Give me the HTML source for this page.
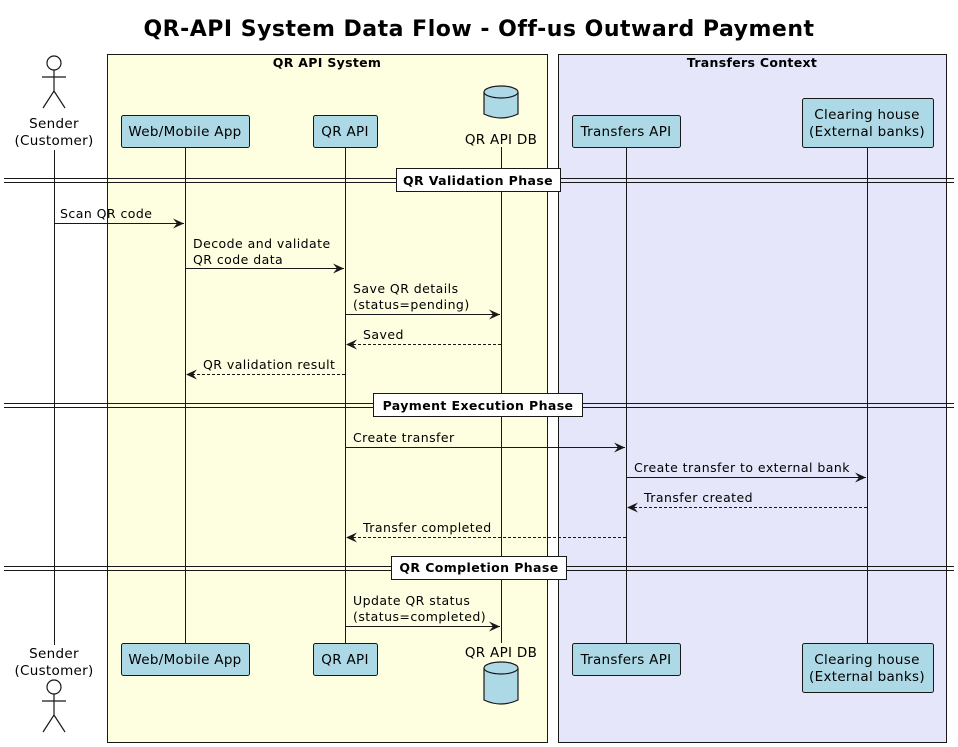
<!DOCTYPE html>
<html><head><meta charset="utf-8"><style>body{margin:0;background:#fff}svg{display:block}</style></head><body>
<svg width="958" height="747" viewBox="0 0 958 747" xmlns="http://www.w3.org/2000/svg" font-family="DejaVu Sans, Liberation Sans, sans-serif">
<defs>
<marker id="a" markerWidth="12" markerHeight="10" refX="11" refY="5" orient="auto" markerUnits="userSpaceOnUse"><path d="M0,0 L11,5 L0,10 L4,5 Z" fill="#181818"/></marker>
</defs>
<text x="479" y="36" text-anchor="middle" font-size="22" font-weight="bold" letter-spacing="0.5">QR-API System Data Flow - Off-us Outward Payment</text>
<rect x="107.5" y="54.5" width="440" height="688" fill="#FEFEE0" stroke="#181818"/>
<rect x="558.5" y="54.5" width="388" height="688" fill="#E6E6FA" stroke="#181818"/>
<text x="327" y="67" text-anchor="middle" font-size="12.5" font-weight="bold" letter-spacing="0.3">QR API System</text>
<text x="752" y="67" text-anchor="middle" font-size="12.5" font-weight="bold" letter-spacing="0.3">Transfers Context</text>
<g stroke="#181818" stroke-width="1">
<line x1="54.5" y1="150" x2="54.5" y2="645"/>
<line x1="185.5" y1="147" x2="185.5" y2="643"/>
<line x1="345.5" y1="147" x2="345.5" y2="643"/>
<line x1="501.5" y1="147" x2="501.5" y2="643"/>
<line x1="626.5" y1="147" x2="626.5" y2="643"/>
<line x1="867.5" y1="147" x2="867.5" y2="643"/>
</g>
<g fill="#ADD8E6" stroke="#181818">
<rect x="121.5" y="115.5" width="128" height="32" rx="2"/>
<rect x="313.5" y="115.5" width="64" height="32" rx="2"/>
<rect x="572.5" y="115.5" width="108" height="32" rx="2"/>
<rect x="802.5" y="98.5" width="131" height="49" rx="2"/>
<rect x="121.5" y="643.5" width="128" height="32" rx="2"/>
<rect x="313.5" y="643.5" width="64" height="32" rx="2"/>
<rect x="572.5" y="643.5" width="108" height="32" rx="2"/>
<rect x="802.5" y="643.5" width="131" height="49" rx="2"/>
</g>
<g font-size="13.5" text-anchor="middle" letter-spacing="0.3">
<text x="185" y="136">Web/Mobile App</text>
<text x="345" y="136">QR API</text>
<text x="626" y="136">Transfers API</text>
<text x="867" y="119">Clearing house</text>
<text x="867" y="136">(External banks)</text>
<text x="185" y="664">Web/Mobile App</text>
<text x="345" y="664">QR API</text>
<text x="626" y="664">Transfers API</text>
<text x="867" y="664">Clearing house</text>
<text x="867" y="681">(External banks)</text>
<text x="501" y="144">QR API DB</text>
<text x="501" y="657">QR API DB</text>
<text x="54" y="128">Sender</text>
<text x="54" y="145">(Customer)</text>
<text x="54" y="658">Sender</text>
<text x="54" y="675">(Customer)</text>
</g>
<g fill="#ADD8E6" stroke="#181818" stroke-width="1.2">
<path d="M484,92 L484,114 Q501,122 518,114 L518,92"/>
<ellipse cx="501" cy="92" rx="17" ry="6"/>
<path d="M484,668 L484,700 Q501,708 518,700 L518,668"/>
<ellipse cx="501" cy="668" rx="17" ry="6"/>
</g>
<g fill="#fff" stroke="#181818" stroke-width="1.2">
<circle cx="54" cy="63" r="7"/>
<path d="M54,70 L54,91 M42,77 L66,77 M43,108 L54,91 L65,108" fill="none"/>
<circle cx="54" cy="687" r="7"/>
<path d="M54,694 L54,715 M42,701 L66,701 M43,732 L54,715 L65,732" fill="none"/>
</g>
<g stroke="#181818">
<line x1="4" y1="178.5" x2="954" y2="178.5"/><line x1="4" y1="182.5" x2="954" y2="182.5"/>
<line x1="4" y1="403.5" x2="954" y2="403.5"/><line x1="4" y1="407.5" x2="954" y2="407.5"/>
<line x1="4" y1="566.5" x2="954" y2="566.5"/><line x1="4" y1="570.5" x2="954" y2="570.5"/>
</g>
<g fill="#fff" stroke="#181818">
<rect x="396.5" y="168.5" width="164" height="23"/>
<rect x="373.5" y="393.5" width="209" height="23"/>
<rect x="391.5" y="556.5" width="175" height="23"/>
</g>
<g font-size="12.5" font-weight="bold" text-anchor="middle" letter-spacing="0.4">
<text x="478" y="185">QR Validation Phase</text>
<text x="478" y="410">Payment Execution Phase</text>
<text x="479" y="572">QR Completion Phase</text>
</g>
<g stroke="#181818" fill="none" marker-end="url(#a)">
<line x1="54" y1="223.5" x2="184" y2="223.5"/>
<line x1="185" y1="268.5" x2="344" y2="268.5"/>
<line x1="345" y1="314.5" x2="500" y2="314.5"/>
<line x1="501" y1="344.5" x2="346" y2="344.5" stroke-dasharray="3,2"/>
<line x1="345" y1="374.5" x2="186" y2="374.5" stroke-dasharray="3,2"/>
<line x1="345" y1="447.5" x2="625" y2="447.5"/>
<line x1="626" y1="477.5" x2="866" y2="477.5"/>
<line x1="867" y1="507.5" x2="627" y2="507.5" stroke-dasharray="3,2"/>
<line x1="626" y1="537.5" x2="346" y2="537.5" stroke-dasharray="3,2"/>
<line x1="345" y1="626.5" x2="500" y2="626.5"/>
</g>
<g font-size="12.5" letter-spacing="0.45">
<text x="60" y="218">Scan QR code</text>
<text x="193" y="248">Decode and validate</text>
<text x="193" y="264">QR code data</text>
<text x="353" y="293">Save QR details</text>
<text x="353" y="309">(status=pending)</text>
<text x="363" y="339">Saved</text>
<text x="203" y="369">QR validation result</text>
<text x="353" y="442">Create transfer</text>
<text x="634" y="472">Create transfer to external bank</text>
<text x="644" y="502">Transfer created</text>
<text x="363" y="532">Transfer completed</text>
<text x="353" y="605">Update QR status</text>
<text x="353" y="621">(status=completed)</text>
</g>
</svg>
</body></html>
